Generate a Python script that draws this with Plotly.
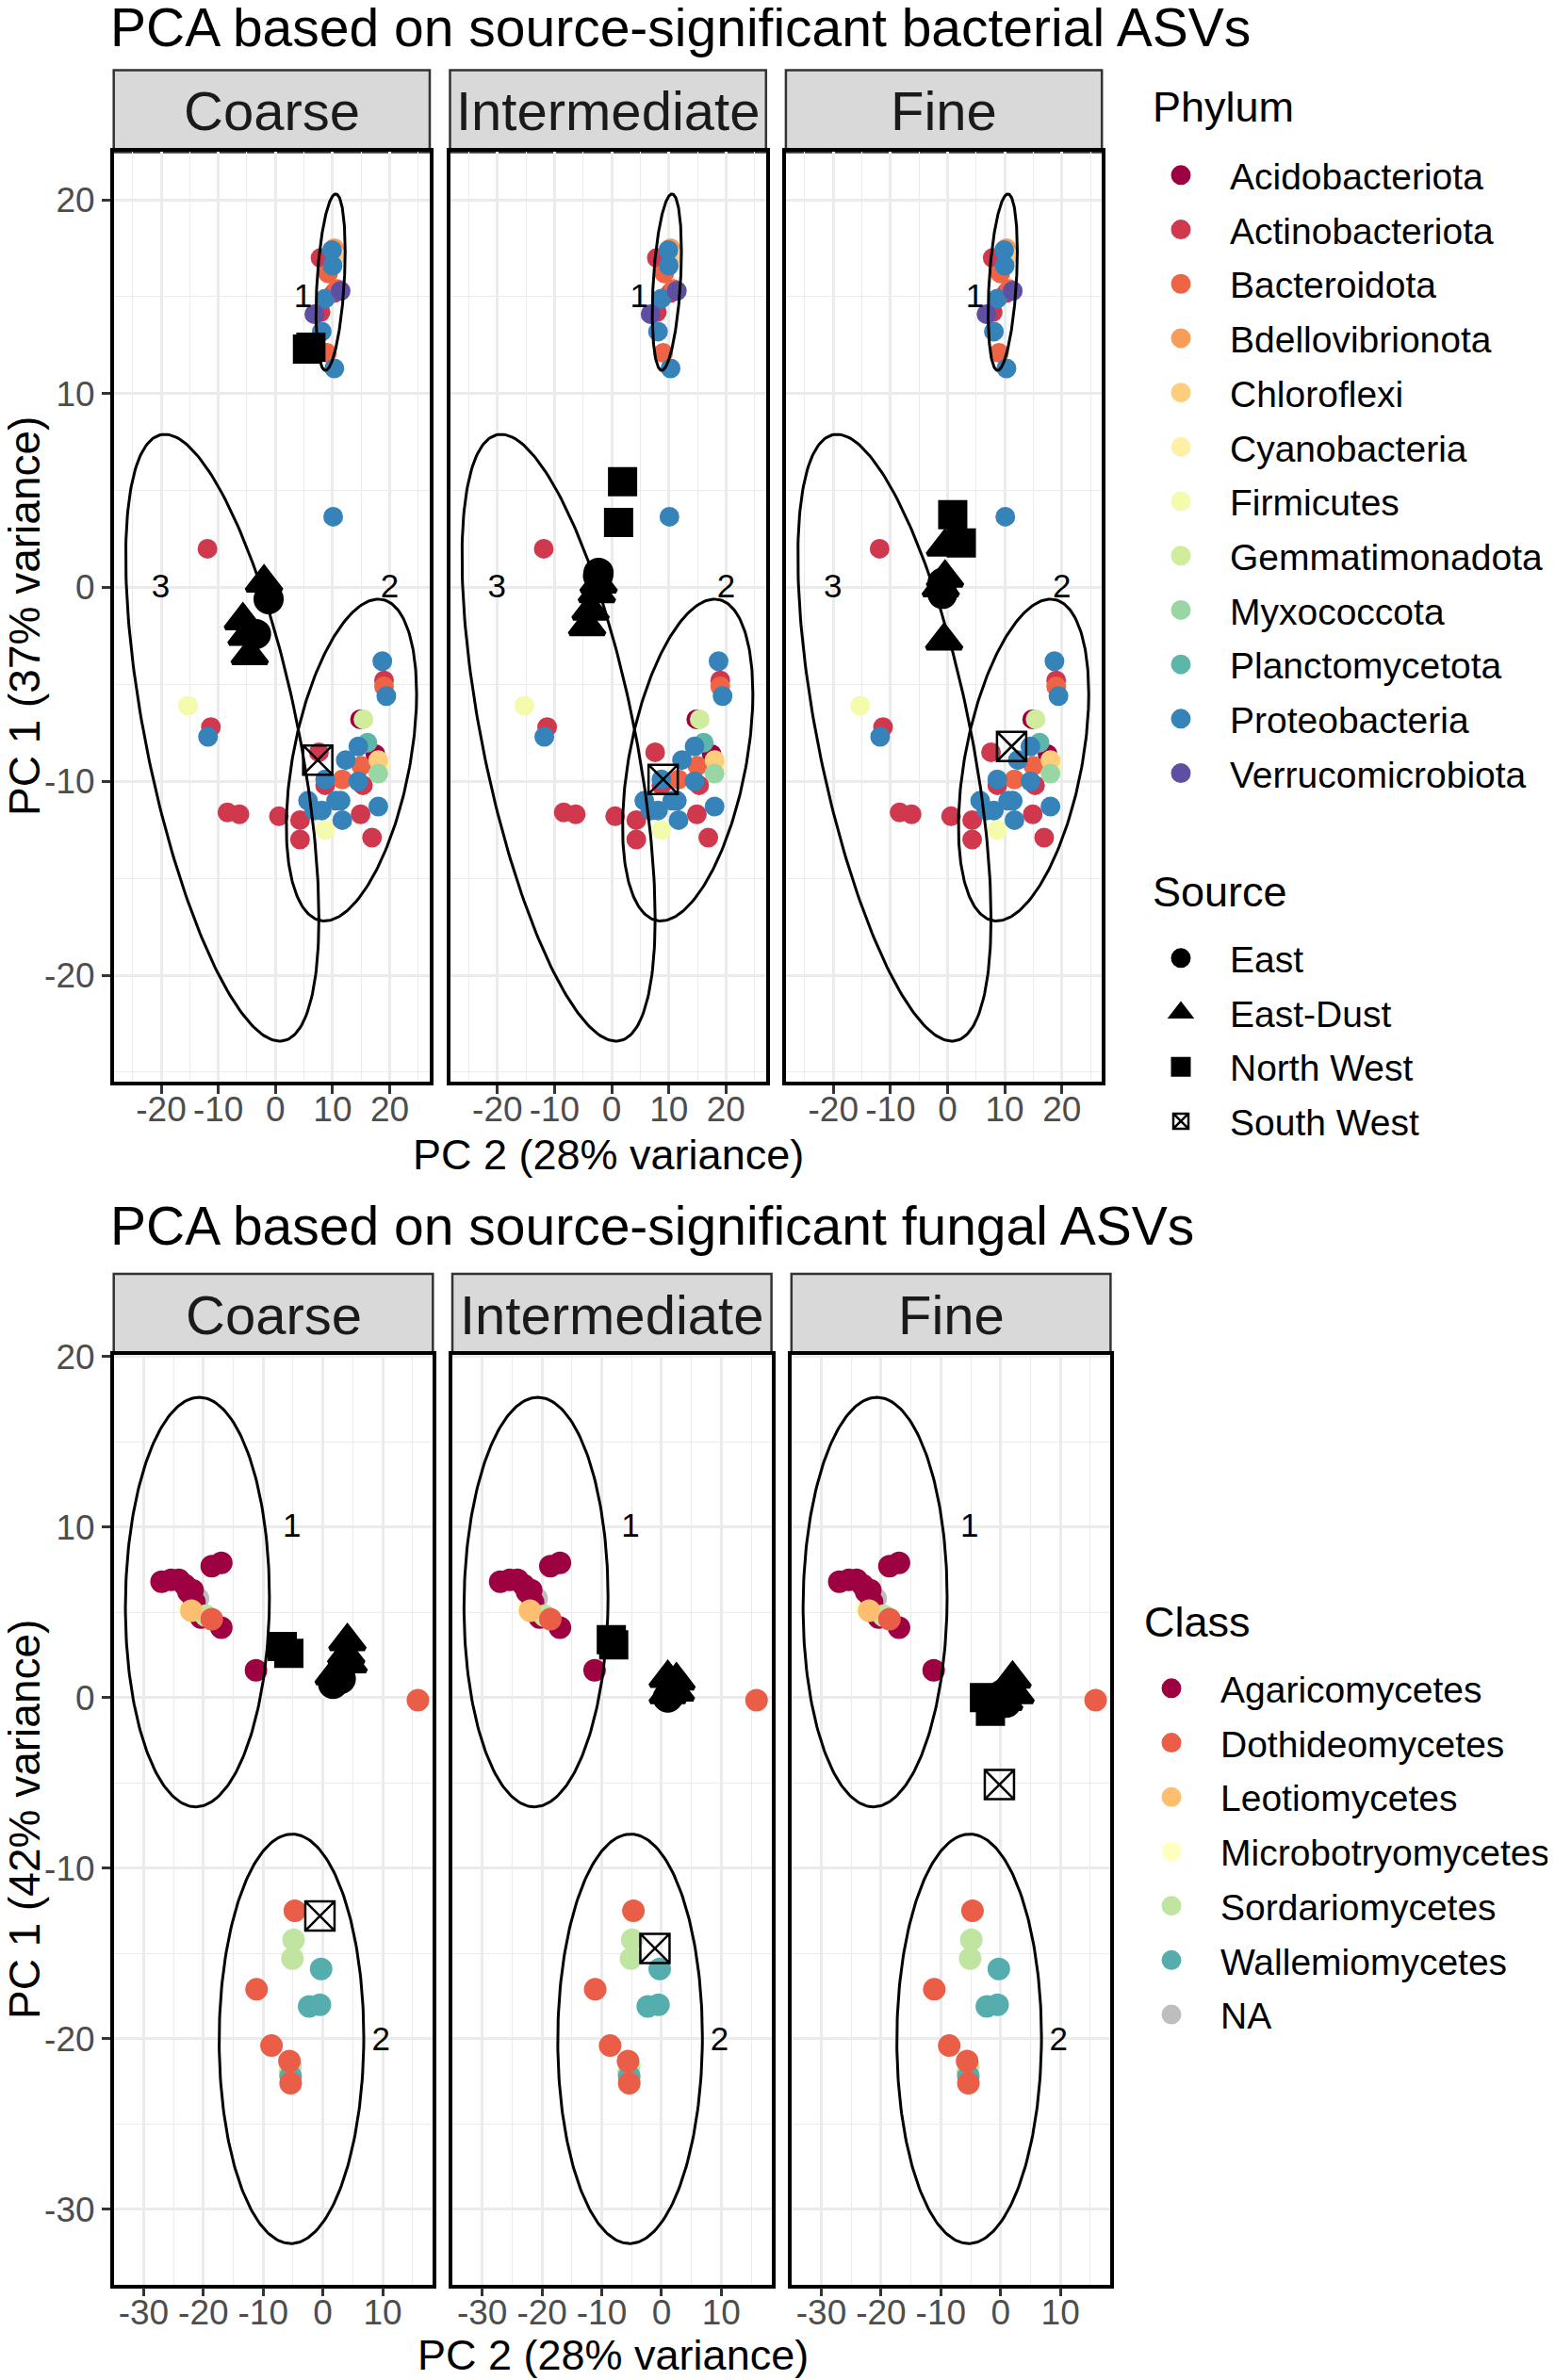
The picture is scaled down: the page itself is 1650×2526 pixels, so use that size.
import numpy as np
import plotly.graph_objects as go

W, H = 1650, 2526
PAGE_OFF = 8  # the page body margin shifts the figure; positions below are page pixels
FONT = "Liberation Sans, Arial, sans-serif"

facets = ["Coarse", "Intermediate", "Fine"]

# ---------------- bacterial data ----------------
phyla = ["Acidobacteriota", "Actinobacteriota", "Bacteroidota", "Bdellovibrionota",
         "Chloroflexi", "Cyanobacteria", "Firmicutes", "Gemmatimonadota",
         "Myxococcota", "Planctomycetota", "Proteobacteria", "Verrucomicrobiota"]
phylum_colors = ["#9E0142", "#D0384E", "#EE6445", "#FA9C59", "#FECE7C", "#FEF1A7",
                 "#F4FBAD", "#D0EC9C", "#98D6A4", "#5CB7A9", "#3683BA", "#5E4FA2"]
phylum_draw_order = ["Cyanobacteria", "Acidobacteriota", "Actinobacteriota", "Bacteroidota",
                     "Bdellovibrionota", "Chloroflexi", "Firmicutes", "Gemmatimonadota",
                     "Myxococcota", "Planctomycetota", "Proteobacteria", "Verrucomicrobiota"]

bac_phylum = ["Actinobacteriota", "Proteobacteria", "Bdellovibrionota", "Chloroflexi",
              "Bacteroidota", "Proteobacteria", "Verrucomicrobiota", "Actinobacteriota",
              "Bacteroidota", "Proteobacteria", "Verrucomicrobiota", "Actinobacteriota",
              "Proteobacteria", "Bacteroidota", "Proteobacteria",
              "Proteobacteria", "Actinobacteriota", "Firmicutes", "Actinobacteriota",
              "Proteobacteria", "Actinobacteriota", "Actinobacteriota", "Actinobacteriota",
              "Actinobacteriota", "Actinobacteriota",
              "Proteobacteria", "Actinobacteriota", "Bacteroidota", "Proteobacteria",
              "Acidobacteriota", "Gemmatimonadota", "Planctomycetota", "Cyanobacteria",
              "Acidobacteriota", "Chloroflexi", "Myxococcota", "Proteobacteria",
              "Proteobacteria", "Bacteroidota", "Bacteroidota", "Actinobacteriota",
              "Proteobacteria", "Actinobacteriota", "Proteobacteria", "Actinobacteriota",
              "Proteobacteria", "Proteobacteria", "Proteobacteria", "Proteobacteria",
              "Proteobacteria", "Proteobacteria", "Firmicutes", "Actinobacteriota",
              "Actinobacteriota", "Proteobacteria"]
bac_x = [7.9, 9.9, 10.3, 10.6, 9.2, 10.0, 11.4, 10.3, 10.8, 8.7, 6.8, 7.9, 8.1, 9.0, 10.3,
         10.1, -11.9, -15.3, -11.3, -11.8, -8.4, -6.3, 0.6, 4.3, 4.3,
         18.7, 19.0, 19.0, 19.4, 14.8, 15.4, 16.1, 18.2, 17.5, 18.0, 18.0, 14.5,
         12.3, 15.0, 11.7, 7.6, 8.7, 8.7, 14.5, 15.3, 11.4, 6.8, 5.7, 8.1,
         11.7, 10.6, 8.7, 14.9, 16.9, 18.0]
bac_y = [17.0, 17.4, 17.5, 17.1, 16.2, 16.6, 15.3, 15.2, 15.4, 14.9, 14.1, 14.2, 13.2, 12.1, 11.3,
         3.65, 2.0, -6.1, -7.2, -7.7, -11.6, -11.7, -11.8, -12.0, -13.0,
         -3.8, -4.8, -5.1, -5.6, -6.8, -6.8, -8.0, -9.2, -8.6, -8.9, -9.6, -8.2,
         -8.9, -9.2, -9.9, -8.5, -9.9, -10.2, -10.0, -10.2, -11.0, -11.5, -11.0, -11.5,
         -12.0, -11.0, -12.5, -11.7, -12.9, -11.3]

sources = ["East", "East-Dust", "North West", "South West"]
source_symbols = ["circle", "triangle-up", "square", "square-x-open"]
source_sizes = [27, 32, 26, 31]
source_line_widths = [5, 5, 5, 2.5]

bac_s_facet = (["Coarse"] * 9 + ["Intermediate"] * 9 + ["Fine"] * 9)
bac_s_source = ["East", "East", "East-Dust", "East-Dust", "East-Dust", "East-Dust",
                "North West", "North West", "South West"] * 3
bac_s_x = [-1.2, -3.4, -2.0, -5.7, -5.05, -4.5, 5.6, 6.2, 7.4,
           -2.3, -2.4, -2.3, -2.6, -3.7, -4.3, 1.9, 1.2, 9.0,
           -0.9, -0.9, -0.45, -1.2, -0.45, -0.6, 0.9, 2.4, 11.2]
bac_s_y = [-0.6, -2.4, 0.25, -1.7, -2.5, -3.5, 12.3, 12.4, -8.9,
           0.76, 0.6, 0.2, -0.3, -1.2, -2.0, 5.46, 3.35, -9.9,
           0.24, -0.33, 2.1, 0.0, 0.5, -2.75, 3.75, 2.3, -8.2]

# ellipse parameters: centre x, centre y, x half-extent, y half-extent, x offset of top point
bac_ell_cx = [9.65, 13.3, -9.3]
bac_ell_cy = [15.75, -8.9, -7.75]
bac_ell_rx = [2.55, 11.4, 16.9]
bac_ell_ry = [4.55, 8.3, 15.65]
bac_ell_dx = [0.9, 4.7, -10.05]
bac_lab_text = ["1", "2", "3"]
bac_lab_x = [4.8, 20.0, -20.1]
bac_lab_y = [14.9, -0.1, -0.1]

# ---------------- fungal data ----------------
classes = ["Agaricomycetes", "Dothideomycetes", "Leotiomycetes", "Microbotryomycetes",
           "Sordariomycetes", "Wallemiomycetes", "NA"]
class_colors = ["#9E0142", "#EA5D47", "#FDBF6F", "#FFFFBF", "#BFE5A0", "#55AEAD", "#BEBEBE"]
class_draw_order = ["NA", "Microbotryomycetes", "Agaricomycetes", "Sordariomycetes",
                    "Leotiomycetes", "Wallemiomycetes", "Dothideomycetes"]

fun_class = ["NA", "Microbotryomycetes", "Leotiomycetes", "Sordariomycetes",
             "Agaricomycetes", "Agaricomycetes", "Agaricomycetes", "Agaricomycetes",
             "Agaricomycetes", "Agaricomycetes", "Agaricomycetes", "Agaricomycetes",
             "Agaricomycetes", "Agaricomycetes", "Agaricomycetes", "Agaricomycetes",
             "Dothideomycetes", "Dothideomycetes",
             "Dothideomycetes", "Sordariomycetes", "Sordariomycetes", "Wallemiomycetes",
             "Dothideomycetes", "Wallemiomycetes", "Wallemiomycetes", "Dothideomycetes",
             "Dothideomycetes", "Sordariomycetes", "Sordariomycetes", "Wallemiomycetes",
             "Dothideomycetes"]
fun_x = [-20.9, -22.3, -22.0, -19.6,
         -27.0, -25.4, -24.1, -23.1, -22.5, -18.6, -17.0, -21.8, -21.5, -20.4, -17.0, -11.2,
         -18.6, 15.9,
         -4.7, -4.9, -5.1, -0.3, -11.1, -2.3, -0.5, -8.6, -5.6, -5.4, -5.5, -5.4, -5.4]
fun_y = [5.8, 5.2, 5.1, 4.8,
         6.8, 6.9, 6.9, 6.6, 6.2, 7.7, 7.9, 6.3, 5.6, 4.7, 4.1, 1.6,
         4.6, -0.15,
         -12.5, -14.2, -15.3, -15.9, -17.1, -18.1, -18.0, -20.4, -21.3, -21.6, -22.0, -22.2, -22.6]

fun_s_facet = (["Coarse"] * 9 + ["Intermediate"] * 9 + ["Fine"] * 9)
fun_s_source = ["East", "East", "East-Dust", "East-Dust", "East-Dust", "East-Dust",
                "North West", "North West", "South West"] * 3
fun_s_x = [1.7, 3.0, 4.1, 3.9, 4.3, 1.8, -6.8, -5.7, -0.5,
           1.05, 1.5, 1.05, 2.5, 1.05, 2.4, -8.4, -8.0, -1.1,
           0.95, 0.3, 2.0, 2.5, 1.4, 0.6, -2.7, -1.7, -0.2]
fun_s_y = [0.8, 1.1, 3.3, 2.5, 2.0, 1.3, 3.0, 2.6, -12.8,
           0.0, 0.2, 1.14, 1.0, 0.2, 0.35, 3.4, 3.1, -14.7,
           -0.3, 0.2, 1.1, 0.2, 0.4, -0.2, 0.0, -0.8, -5.1]

fun_ell_cx = [-21.0, -5.26]
fun_ell_cy = [5.6, -20.0]
fun_ell_rx = [12.05, 12.1]
fun_ell_ry = [12.0, 12.0]
fun_ell_dx = [0.3, 0.1]
fun_lab_text = ["1", "2"]
fun_lab_x = [-5.2, 9.7]
fun_lab_y = [9.9, -20.2]

# ---------------- layout geometry (page pixels) ----------------
top_panels_x = [(120.7, 456.0), (477.5, 812.8), (833.9, 1169.2)]
top_panel_y = (161.4, 1147.8)
top_strip_y = (74.5, 161.4)
bot_panels_x = [(120.7, 459.3), (480.0, 818.6), (839.8, 1178.4)]
bot_panel_y = (1438.2, 2424.6)
bot_strip_y = (1352.0, 1438.2)


def px(x):
    return (x - PAGE_OFF) / W


def py(y):
    return 1 - (y - PAGE_OFF) / H


def ellipse(cx, cy, rx, ry, dx):
    t = np.linspace(0, 2 * np.pi, 241)
    d = np.arccos(np.clip(dx / rx, -1, 1))
    return cx + rx * np.cos(t), cy + ry * np.cos(t - d)


fig = go.Figure()
layout = dict()
shapes = []
annotations = []

GRID = "#EBEBEB"
TICKFONT = dict(family=FONT, size=37, color="#4D4D4D")


def add_axes(idx, xd, yd, xrange, yrange, xticks, yticks, show_ylab):
    xa = dict(domain=[px(xd[0]), px(xd[1])], range=xrange, anchor=f"y{idx}",
              tickmode="array", tickvals=xticks, ticktext=[str(v) for v in xticks],
              ticks="outside", ticklen=9, tickwidth=2.5, tickcolor="#333333",
              tickfont=TICKFONT, ticklabelstandoff=-15, automargin=False,
              showgrid=True, gridcolor=GRID, gridwidth=2.6, zeroline=False,
              showline=True, linecolor="black", linewidth=3.5, mirror=True,
              minor=dict(dtick=5, tick0=0, showgrid=True, gridcolor=GRID, gridwidth=1.3, ticks=""),
              fixedrange=True)
    ya = dict(domain=[py(yd[1]), py(yd[0])], range=yrange, anchor=f"x{idx}",
              tickmode="array", tickvals=yticks, ticktext=[str(v) for v in yticks],
              ticks="outside" if show_ylab else "", ticklen=9, tickwidth=2.5, tickcolor="#333333",
              showticklabels=show_ylab, automargin=False,
              tickfont=TICKFONT,
              showgrid=True, gridcolor=GRID, gridwidth=2.6, zeroline=False,
              showline=True, linecolor="black", linewidth=3.5, mirror=True,
              minor=dict(dtick=5, tick0=0, showgrid=True, gridcolor=GRID, gridwidth=1.3, ticks=""),
              fixedrange=True)
    layout["xaxis" if idx == 1 else f"xaxis{idx}"] = xa
    layout["yaxis" if idx == 1 else f"yaxis{idx}"] = ya


def source_marker(k):
    mk = dict(color="black", size=source_sizes[k], symbol=source_symbols[k],
              line=dict(color="black", width=source_line_widths[k]))
    return mk


bac_x = np.array(bac_x); bac_y = np.array(bac_y); bac_phylum = np.array(bac_phylum)
fun_x = np.array(fun_x); fun_y = np.array(fun_y); fun_class = np.array(fun_class)

# ---- bacterial panels ----
for fi, fac in enumerate(facets):
    idx = fi + 1
    xr = "x" if idx == 1 else f"x{idx}"
    yr = "y" if idx == 1 else f"y{idx}"
    add_axes(idx, top_panels_x[fi], top_panel_y, [-28.3, 27.0], [-25.48, 22.46],
             [-20, -10, 0, 10, 20], [-20, -10, 0, 10, 20], fi == 0)
    for ph in phylum_draw_order:
        k = phyla.index(ph)
        m = bac_phylum == ph
        fig.add_trace(go.Scatter(x=bac_x[m], y=bac_y[m], mode="markers", name=ph,
                                 legendgroup=ph, legendrank=100 + k,
                                 showlegend=(fi == 0), legend="legend",
                                 marker=dict(color=phylum_colors[k], size=16, symbol="circle",
                                             line=dict(color=phylum_colors[k], width=5)),
                                 xaxis=xr, yaxis=yr))
    for k, s in enumerate(sources):
        xs = [bac_s_x[i] for i in range(len(bac_s_x)) if bac_s_facet[i] == fac and bac_s_source[i] == s]
        ys = [bac_s_y[i] for i in range(len(bac_s_y)) if bac_s_facet[i] == fac and bac_s_source[i] == s]
        fig.add_trace(go.Scatter(x=xs, y=ys, mode="markers", name=s, legendgroup=s,
                                 legendrank=200 + k,
                                 showlegend=(fi == 0), legend="legend2", marker=source_marker(k),
                                 xaxis=xr, yaxis=yr))
    for k in range(len(bac_ell_cx)):
        ex, ey = ellipse(bac_ell_cx[k], bac_ell_cy[k], bac_ell_rx[k], bac_ell_ry[k], bac_ell_dx[k])
        fig.add_trace(go.Scatter(x=ex, y=ey, mode="lines", line=dict(color="black", width=3),
                                 showlegend=False, hoverinfo="skip", xaxis=xr, yaxis=yr))
    fig.add_trace(go.Scatter(x=bac_lab_x, y=bac_lab_y, mode="text", text=bac_lab_text,
                             textfont=dict(family=FONT, size=35, color="black"),
                             showlegend=False, hoverinfo="skip", xaxis=xr, yaxis=yr))
    x0, x1 = top_panels_x[fi]
    shapes.append(dict(type="rect", xref="paper", yref="paper", x0=px(x0), x1=px(x1),
                       y0=py(top_strip_y[1]), y1=py(top_strip_y[0]),
                       fillcolor="#D9D9D9", line=dict(color="#333333", width=2.5), layer="below"))
    annotations.append(dict(text=fac, x=px((x0 + x1) / 2), y=py(sum(top_strip_y) / 2),
                            xref="paper", yref="paper", showarrow=False,
                            font=dict(family=FONT, size=58, color="#1A1A1A"),
                            xanchor="center", yanchor="middle"))

# ---- fungal panels ----
for fi, fac in enumerate(facets):
    idx = fi + 4
    xr = f"x{idx}"
    yr = f"y{idx}"
    add_axes(idx, bot_panels_x[fi], bot_panel_y, [-35.0, 18.4], [-34.4, 20.08],
             [-30, -20, -10, 0, 10], [-30, -20, -10, 0, 10, 20], fi == 0)
    for cl in class_draw_order:
        k = classes.index(cl)
        m = fun_class == cl
        fig.add_trace(go.Scatter(x=fun_x[m], y=fun_y[m], mode="markers", name=cl,
                                 legendgroup="c_" + cl, legendrank=300 + k,
                                 showlegend=(fi == 0), legend="legend3",
                                 marker=dict(color=class_colors[k], size=19, symbol="circle",
                                             line=dict(color=class_colors[k], width=5)),
                                 xaxis=xr, yaxis=yr))
    for k, s in enumerate(sources):
        xs = [fun_s_x[i] for i in range(len(fun_s_x)) if fun_s_facet[i] == fac and fun_s_source[i] == s]
        ys = [fun_s_y[i] for i in range(len(fun_s_y)) if fun_s_facet[i] == fac and fun_s_source[i] == s]
        fig.add_trace(go.Scatter(x=xs, y=ys, mode="markers", name=s, showlegend=False,
                                 marker=source_marker(k), xaxis=xr, yaxis=yr))
    for k in range(len(fun_ell_cx)):
        ex, ey = ellipse(fun_ell_cx[k], fun_ell_cy[k], fun_ell_rx[k], fun_ell_ry[k], fun_ell_dx[k])
        fig.add_trace(go.Scatter(x=ex, y=ey, mode="lines", line=dict(color="black", width=3),
                                 showlegend=False, hoverinfo="skip", xaxis=xr, yaxis=yr))
    fig.add_trace(go.Scatter(x=fun_lab_x, y=fun_lab_y, mode="text", text=fun_lab_text,
                             textfont=dict(family=FONT, size=35, color="black"),
                             showlegend=False, hoverinfo="skip", xaxis=xr, yaxis=yr))
    x0, x1 = bot_panels_x[fi]
    shapes.append(dict(type="rect", xref="paper", yref="paper", x0=px(x0), x1=px(x1),
                       y0=py(bot_strip_y[1]), y1=py(bot_strip_y[0]),
                       fillcolor="#D9D9D9", line=dict(color="#333333", width=2.5), layer="below"))
    annotations.append(dict(text=fac, x=px((x0 + x1) / 2), y=py(sum(bot_strip_y) / 2),
                            xref="paper", yref="paper", showarrow=False,
                            font=dict(family=FONT, size=58, color="#1A1A1A"),
                            xanchor="center", yanchor="middle"))


def txt(text, x, y, size, xanchor="left", angle=0):
    return dict(text=text, x=px(x), y=py(y), xref="paper", yref="paper", showarrow=False,
                xanchor=xanchor, yanchor="middle", textangle=angle, borderpad=0,
                font=dict(family=FONT, size=size, color="black"))


annotations += [
    txt("PCA based on source-significant bacterial ASVs", 116, 29, 57),
    txt("PCA based on source-significant fungal ASVs", 116, 1301, 57),
    txt("PC 2 (28% variance)", 645, 1225, 45, "center"),
    txt("PC 2 (28% variance)", 650, 2499, 45, "center"),
    txt("PC 1 (37% variance)", 26, 654, 46, "center", -90),
    txt("PC 1 (42% variance)", 26, 1931, 46, "center", -90),
    txt("Phylum", 1222, 113, 45),
    txt("Source", 1222, 946, 45),
    txt("Class", 1213, 1721, 45),
]

leg_common = dict(xanchor="left", yanchor="top", bgcolor="rgba(0,0,0,0)",
                  font=dict(family=FONT, size=39, color="black"),
                  itemwidth=94, tracegroupgap=4, itemclick=False, itemdoubleclick=False,
                  traceorder="grouped")

layout.update(
    template="none",
    width=W, height=H, margin=dict(l=0, r=0, t=0, b=0, pad=0, autoexpand=False),
    paper_bgcolor="white", plot_bgcolor="white",
    font=dict(family=FONT, color="black"),
    shapes=shapes, annotations=annotations, hovermode=False,
    legend=dict(x=px(1201), y=py(154), **leg_common),
    legend2=dict(x=px(1201), y=py(985), **leg_common),
    legend3=dict(x=px(1191), y=py(1760), **leg_common),
)
fig.update_layout(**layout)
fig.write_html("out.html")
